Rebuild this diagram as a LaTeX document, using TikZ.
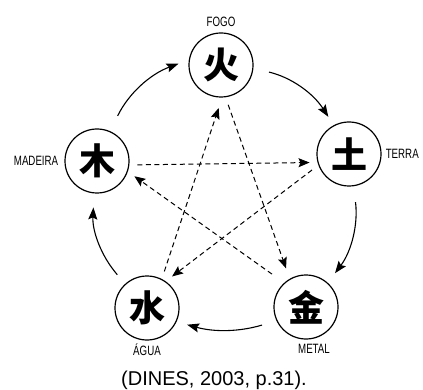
\documentclass[tikz,border=0pt]{standalone}
\usepackage{fontspec}
\setmainfont{Liberation Sans}
\newfontfamily\cjkfont{Noto Sans CJK SC}
\newfontfamily\narrowfont[FakeStretch=0.72]{Liberation Sans}
\usetikzlibrary{arrows.meta}

\begin{document}
\begin{tikzpicture}[x=1pt,y=-1pt]
\tikzstyle{element}=[circle, minimum size=64pt, inner sep=0pt, line width=1.2pt, draw=black, font=\cjkfont\bfseries\fontsize{36}{36}\selectfont]
\tikzstyle{elname}=[font=\narrowfont\fontsize{13.5}{13.5}\selectfont, inner sep=1pt]
\tikzstyle{gen}=[-{Stealth[length=12pt,width=9pt,inset=2pt]}, line width=1.1pt, bend left=22]
\tikzstyle{ctrl}=[-{Stealth[length=11pt,width=9pt,inset=2pt]}, line width=1pt, dash pattern=on 5pt off 3.5pt, shorten <=8pt, shorten >=8pt]
\useasboundingbox (0,0) rectangle (423,390);
	\node[element] (fire) at (221,65) [label={[elname,label distance=5pt]above:FOGO}]{火};
	\node[element] (earth) at (349,154) [label={[elname,label distance=3pt]right:TERRA}]{土};
	\node[element] (metal) at (306,307) [label={[elname,label distance=3pt,xshift=8pt]below:METAL}]{金};
	\node[element] (water) at (147,308) [label={[elname,label distance=2pt]below:ÁGUA}]{水};
	\node[element] (wood) at (97,161) [label={[elname,label distance=5pt]left:MADEIRA}]{木};

	\node[font=\fontsize{20}{20}\selectfont] (source) at (214,380) {(DINES, 2003, p.31).};

	% ciclo de geracao
	\path
		(wood.66) edge [gen, shorten <=17pt, shorten >=11pt] (fire.171)
		(fire.-6) edge [gen, shorten <=16pt, shorten >=10pt] (earth.118)
		(earth.-82) edge [gen, shorten <=16pt, shorten >=12pt] (metal.48)
		(metal.205) edge [gen, bend left=16, shorten <=15pt, shorten >=11pt] (water.-25)
		(water.132) edge [gen, shorten <=12pt, shorten >=14pt] (wood.-95);

	% ciclo de controle
	\path
		(wood.-7) edge [ctrl] (earth.195)
		(earth.200) edge [ctrl] (water.55)
		(water.63) edge [ctrl, shorten >=11pt] (fire.272)
		(fire.-82) edge [ctrl, shorten >=11pt] (metal.120)
		(metal.132) edge [ctrl, shorten <=15pt] (wood.-19);
\end{tikzpicture}
\end{document}
